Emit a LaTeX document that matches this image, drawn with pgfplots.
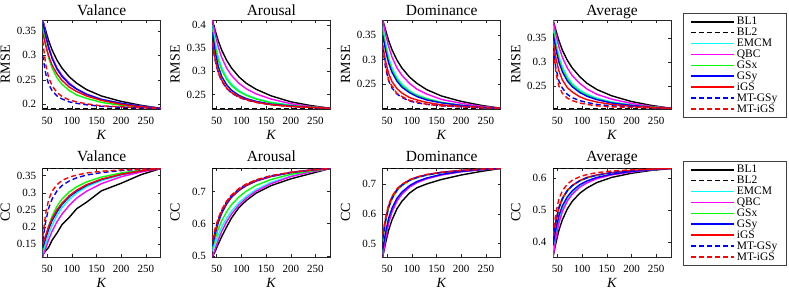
\documentclass[border=0pt]{standalone}
\usepackage{fontspec}
\setmainfont{Liberation Serif}
\usepackage{pgfplots}
\usepackage{pgfplotstable}
\pgfplotsset{compat=1.18}

\definecolor{mcyan}{rgb}{0,1,1}
\definecolor{mmag}{rgb}{1,0,1}
\definecolor{mgreen}{rgb}{0,1,0}
\definecolor{mblue}{rgb}{0,0,1}
\definecolor{mred}{rgb}{1,0,0}

% Valance RMSE
\pgfplotstableread{
K BLa BLb EMCM QBC GSx GSy iGS MTGSy MTiGS
41  .372 .192 .370 .372 .360 .368 .345 .300 .330
47  .351 .192 .341 .343 .324 .340 .320 .263 .282
53  .330 .192 .316 .318 .295 .315 .299 .241 .255
60  .311 .192 .295 .296 .274 .294 .280 .228 .238
70  .290 .192 .273 .274 .254 .272 .262 .217 .224
80  .274 .192 .258 .259 .241 .257 .249 .211 .216
95  .256 .192 .242 .243 .228 .241 .235 .205 .209
110 .243 .192 .231 .231 .219 .231 .226 .202 .205
130 .230 .192 .220 .221 .212 .220 .217 .199 .201
160 .217 .192 .210 .210 .204 .210 .208 .196 .197
200 .206 .192 .202 .202 .198 .202 .200 .194 .195
240 .198 .192 .196 .196 .195 .196 .195 .193 .193
280 .192 .192 .192 .192 .192 .192 .192 .192 .192
}\tabVR
% Arousal RMSE
\pgfplotstableread{
K BLa BLb EMCM QBC GSx GSy iGS MTGSy MTiGS
41  .411 .220 .400 .411 .390 .385 .364 .360 .362
47  .388 .220 .361 .380 .353 .341 .326 .323 .324
53  .366 .220 .331 .353 .325 .311 .299 .297 .298
60  .346 .220 .308 .330 .303 .289 .281 .279 .280
70  .324 .220 .286 .307 .283 .271 .264 .263 .264
80  .307 .220 .272 .291 .269 .259 .254 .253 .254
95  .288 .220 .258 .274 .256 .248 .245 .244 .244
110 .274 .220 .249 .262 .248 .241 .239 .238 .238
130 .261 .220 .241 .251 .240 .235 .233 .233 .233
160 .247 .220 .233 .240 .232 .229 .228 .228 .228
200 .234 .220 .227 .230 .226 .225 .224 .224 .224
240 .226 .220 .223 .224 .223 .222 .222 .222 .222
280 .220 .220 .220 .220 .220 .220 .220 .220 .220
}\tabAR
% Dominance RMSE
\pgfplotstableread{
K BLa BLb EMCM QBC GSx GSy iGS MTGSy MTiGS
41  .381 .201 .370 .381 .360 .350 .330 .325 .330
47  .360 .201 .333 .352 .326 .318 .296 .282 .290
53  .339 .201 .305 .327 .299 .293 .272 .257 .258
60  .320 .201 .283 .305 .278 .274 .255 .242 .246
70  .299 .201 .263 .283 .260 .256 .241 .230 .231
80  .283 .201 .250 .268 .247 .244 .232 .223 .225
95  .265 .201 .237 .252 .235 .233 .223 .216 .217
110 .252 .201 .228 .240 .227 .225 .218 .212 .214
130 .239 .201 .221 .230 .220 .218 .213 .209 .209
160 .226 .201 .213 .219 .213 .212 .208 .206 .206
200 .215 .201 .207 .211 .207 .207 .205 .204 .204
240 .207 .201 .204 .205 .203 .203 .203 .202 .202
280 .201 .201 .201 .201 .201 .201 .201 .201 .201
}\tabDR
% Average RMSE
\pgfplotstableread{
K BLa BLb EMCM QBC GSx GSy iGS MTGSy MTiGS
41  .388 .204 .380 .388 .370 .360 .345 .330 .340
47  .366 .204 .342 .358 .334 .326 .308 .286 .277
53  .345 .204 .312 .332 .306 .300 .282 .261 .250
60  .325 .204 .290 .310 .285 .280 .263 .246 .235
70  .304 .204 .269 .288 .265 .261 .247 .233 .225
80  .288 .204 .255 .272 .252 .249 .238 .226 .220
95  .270 .204 .242 .256 .239 .237 .228 .220 .215
110 .256 .204 .233 .244 .231 .229 .222 .216 .212
130 .243 .204 .225 .233 .223 .222 .217 .212 .209
160 .230 .204 .217 .223 .216 .215 .212 .209 .207
200 .218 .204 .211 .214 .210 .210 .208 .207 .206
240 .210 .204 .207 .208 .207 .206 .206 .205 .205
280 .204 .204 .204 .204 .204 .204 .204 .204 .204
}\tabAvR
% Valance CC
\pgfplotstableread{
K BLa BLb EMCM QBC GSx GSy iGS MTGSy MTiGS
41  .120 .371 .120 .113 .130 .140 .150 .160 .170
47  .131 .371 .150 .138 .169 .168 .176 .216 .240
53  .141 .371 .179 .163 .203 .194 .202 .255 .280
60  .162 .371 .205 .188 .232 .219 .225 .282 .305
70  .183 .371 .235 .216 .261 .245 .251 .306 .324
80  .207 .371 .257 .238 .282 .266 .270 .321 .336
95  .229 .371 .281 .264 .303 .289 .292 .335 .346
110 .254 .371 .300 .285 .318 .305 .308 .344 .352
130 .273 .371 .318 .305 .332 .322 .324 .352 .358
160 .306 .371 .336 .327 .346 .339 .340 .359 .363
200 .328 .371 .352 .347 .358 .354 .354 .365 .367
240 .353 .371 .363 .361 .366 .364 .364 .369 .369
280 .371 .371 .371 .371 .371 .371 .371 .371 .371
}\tabVC
% Arousal CC
\pgfplotstableread{
K BLa BLb EMCM QBC GSx GSy iGS MTGSy MTiGS
41  .497 .771 .515 .497 .525 .530 .540 .545 .550
47  .515 .771 .540 .523 .554 .569 .577 .581 .586
53  .537 .771 .565 .550 .583 .603 .610 .613 .617
60  .560 .771 .589 .576 .609 .632 .638 .640 .643
70  .590 .771 .617 .606 .637 .661 .666 .668 .670
80  .618 .771 .639 .630 .659 .682 .685 .687 .689
95  .650 .771 .665 .658 .683 .703 .706 .708 .709
110 .672 .771 .685 .679 .701 .718 .720 .722 .723
130 .695 .771 .706 .701 .719 .732 .734 .735 .736
160 .718 .771 .728 .724 .737 .746 .747 .748 .749
200 .739 .771 .747 .746 .753 .758 .759 .759 .759
240 .755 .771 .761 .760 .763 .766 .766 .766 .766
280 .771 .771 .771 .771 .771 .771 .771 .771 .771
}\tabAC
% Dominance CC
\pgfplotstableread{
K BLa BLb EMCM QBC GSx GSy iGS MTGSy MTiGS
41  .455 .752 .465 .455 .510 .480 .525 .515 .530
47  .503 .752 .527 .519 .574 .539 .585 .578 .589
53  .545 .752 .576 .569 .619 .585 .627 .622 .630
60  .580 .752 .612 .607 .650 .619 .657 .652 .659
70  .617 .752 .646 .643 .678 .652 .682 .679 .684
80  .642 .752 .669 .666 .694 .673 .698 .696 .699
95  .669 .752 .691 .689 .711 .694 .713 .712 .714
110 .687 .752 .705 .704 .721 .708 .723 .721 .723
130 .700 .752 .718 .717 .730 .720 .731 .730 .732
160 .715 .752 .731 .730 .738 .732 .739 .739 .739
200 .730 .752 .741 .741 .745 .742 .745 .745 .746
240 .742 .752 .748 .748 .749 .748 .749 .749 .749
280 .752 .752 .752 .752 .752 .752 .752 .752 .752
}\tabDC
% Average CC
\pgfplotstableread{
K BLa BLb EMCM QBC GSx GSy iGS MTGSy MTiGS
41  .353 .631 .370 .353 .400 .390 .410 .405 .420
47  .398 .631 .427 .413 .461 .442 .469 .465 .493
53  .437 .631 .471 .460 .504 .483 .509 .507 .535
60  .470 .631 .504 .496 .534 .514 .538 .536 .561
70  .504 .631 .535 .529 .560 .542 .563 .561 .582
80  .528 .631 .555 .550 .576 .561 .578 .577 .594
95  .553 .631 .575 .572 .592 .580 .593 .592 .605
110 .570 .631 .589 .586 .601 .592 .603 .602 .612
130 .587 .631 .601 .599 .610 .603 .611 .610 .618
160 .603 .631 .612 .611 .618 .613 .618 .618 .623
200 .616 .631 .621 .620 .624 .622 .625 .625 .627
240 .625 .631 .627 .627 .628 .627 .628 .628 .629
280 .631 .631 .631 .631 .631 .631 .631 .631 .631
}\tabAvC

\pgfplotsset{
  panel/.style={
    scale only axis, width=118pt, height=89pt,
    xmin=41, xmax=280, xtick={50,100,150,200,250},
    tick align=inside, tick pos=both, major tick length=3pt,
    axis line style={black!85, line width=0.6pt},
    every tick/.style={black!85, line width=0.5pt},
    /pgf/number format/assume math mode=true,
    ticklabel style={font=\fontsize{11}{12}\selectfont},
    yticklabel style={/pgf/number format/fixed, /pgf/number format/precision=2, anchor=east, xshift=-3pt},
    xticklabel style={anchor=base, yshift=-15pt},
    xlabel={\textit{K}},
    every axis x label/.style={at={(axis description cs:0.5,0)}, anchor=base, yshift=-30.3pt, font=\fontsize{14}{16}\selectfont},
    every axis y label/.style={at={(axis description cs:0,0.5)}, xshift=-32.7pt, rotate=90, anchor=base, font=\fontsize{14}{16}\selectfont},
    every axis title/.style={at={(axis description cs:0.5,1)}, anchor=base, yshift=5pt, font=\fontsize{15.5}{17}\selectfont},
  },
  bot/.style={every axis title/.append style={yshift=1.5pt}},
}

\newcommand\allplots[1]{%
  \addplot[draw=black, line width=1.4pt, no marks] table[x=K,y=BLa]{#1};
  \addplot[draw=black, line width=1.4pt, dash pattern=on 5pt off 3pt, no marks] table[x=K,y=BLb]{#1};
  \addplot[draw=mcyan, line width=1.4pt, no marks] table[x=K,y=EMCM]{#1};
  \addplot[draw=mmag, line width=1.4pt, no marks] table[x=K,y=QBC]{#1};
  \addplot[draw=mgreen, line width=1.4pt, no marks] table[x=K,y=GSx]{#1};
  \addplot[draw=mblue, line width=1.4pt, no marks] table[x=K,y=GSy]{#1};
  \addplot[draw=mred, line width=1.4pt, no marks] table[x=K,y=iGS]{#1};
  \addplot[draw=mblue, line width=1.4pt, dash pattern=on 5pt off 3pt, no marks] table[x=K,y=MTGSy]{#1};
  \addplot[draw=mred, line width=1.4pt, dash pattern=on 5pt off 3pt, no marks] table[x=K,y=MTiGS]{#1};
}

\begin{document}
\begin{tikzpicture}
\path[use as bounding box] (0,0) rectangle (789pt,-289pt);
% top row
\begin{axis}[panel, at={(42.7pt,-20pt)}, anchor=north west, title={Valance}, ylabel={RMSE},
  ymin=0.1905, ymax=0.372, ytick={0.2,0.25,0.3,0.35}]
\allplots{\tabVR}
\end{axis}
\begin{axis}[panel, at={(212.3pt,-20pt)}, anchor=north west, title={Arousal}, ylabel={RMSE},
  ymin=0.2185, ymax=0.411, ytick={0.25,0.3,0.35,0.4}]
\allplots{\tabAR}
\end{axis}
\begin{axis}[panel, at={(382.7pt,-20pt)}, anchor=north west, title={Dominance}, ylabel={RMSE},
  ymin=0.1995, ymax=0.381, ytick={0.25,0.3,0.35}]
\allplots{\tabDR}
\end{axis}
\begin{axis}[panel, at={(553pt,-20pt)}, anchor=north west, title={Average}, ylabel={RMSE},
  ymin=0.2025, ymax=0.388, ytick={0.25,0.3,0.35},
  legend image code/.code={\draw[#1, line width=1.6pt] (0pt,0pt) -- (43pt,0pt);},
  legend cell align=left,
  legend style={at={(1.102,1.079)}, anchor=north west, draw=black!75,
    font=\fontsize{11.5}{12}\selectfont, inner xsep=7pt, inner ysep=2pt, row sep=-2.2pt}]
\allplots{\tabAvR}
\legend{BL1,BL2,EMCM,QBC,GSx,GSy,iGS,MT-GSy,MT-iGS}
\end{axis}
% bottom row
\begin{axis}[panel, bot, at={(42.7pt,-168pt)}, anchor=north west, title={Valance}, ylabel={CC},
  ymin=0.113, ymax=0.3725, ytick={0.15,0.2,0.25,0.3,0.35}]
\allplots{\tabVC}
\end{axis}
\begin{axis}[panel, bot, at={(212.3pt,-168pt)}, anchor=north west, title={Arousal}, ylabel={CC},
  ymin=0.497, ymax=0.7725, ytick={0.5,0.6,0.7}]
\allplots{\tabAC}
\end{axis}
\begin{axis}[panel, bot, at={(382.7pt,-168pt)}, anchor=north west, title={Dominance}, ylabel={CC},
  ymin=0.455, ymax=0.7535, ytick={0.5,0.6,0.7}]
\allplots{\tabDC}
\end{axis}
\begin{axis}[panel, bot, at={(553pt,-168pt)}, anchor=north west, title={Average}, ylabel={CC},
  ymin=0.353, ymax=0.6325, ytick={0.4,0.5,0.6},
  legend image code/.code={\draw[#1, line width=1.6pt] (0pt,0pt) -- (43pt,0pt);},
  legend cell align=left,
  legend style={at={(1.102,1.079)}, anchor=north west, draw=black!75,
    font=\fontsize{11.5}{12}\selectfont, inner xsep=7pt, inner ysep=2pt, row sep=-2.2pt}]
\allplots{\tabAvC}
\legend{BL1,BL2,EMCM,QBC,GSx,GSy,iGS,MT-GSy,MT-iGS}
\end{axis}
\end{tikzpicture}
\end{document}
